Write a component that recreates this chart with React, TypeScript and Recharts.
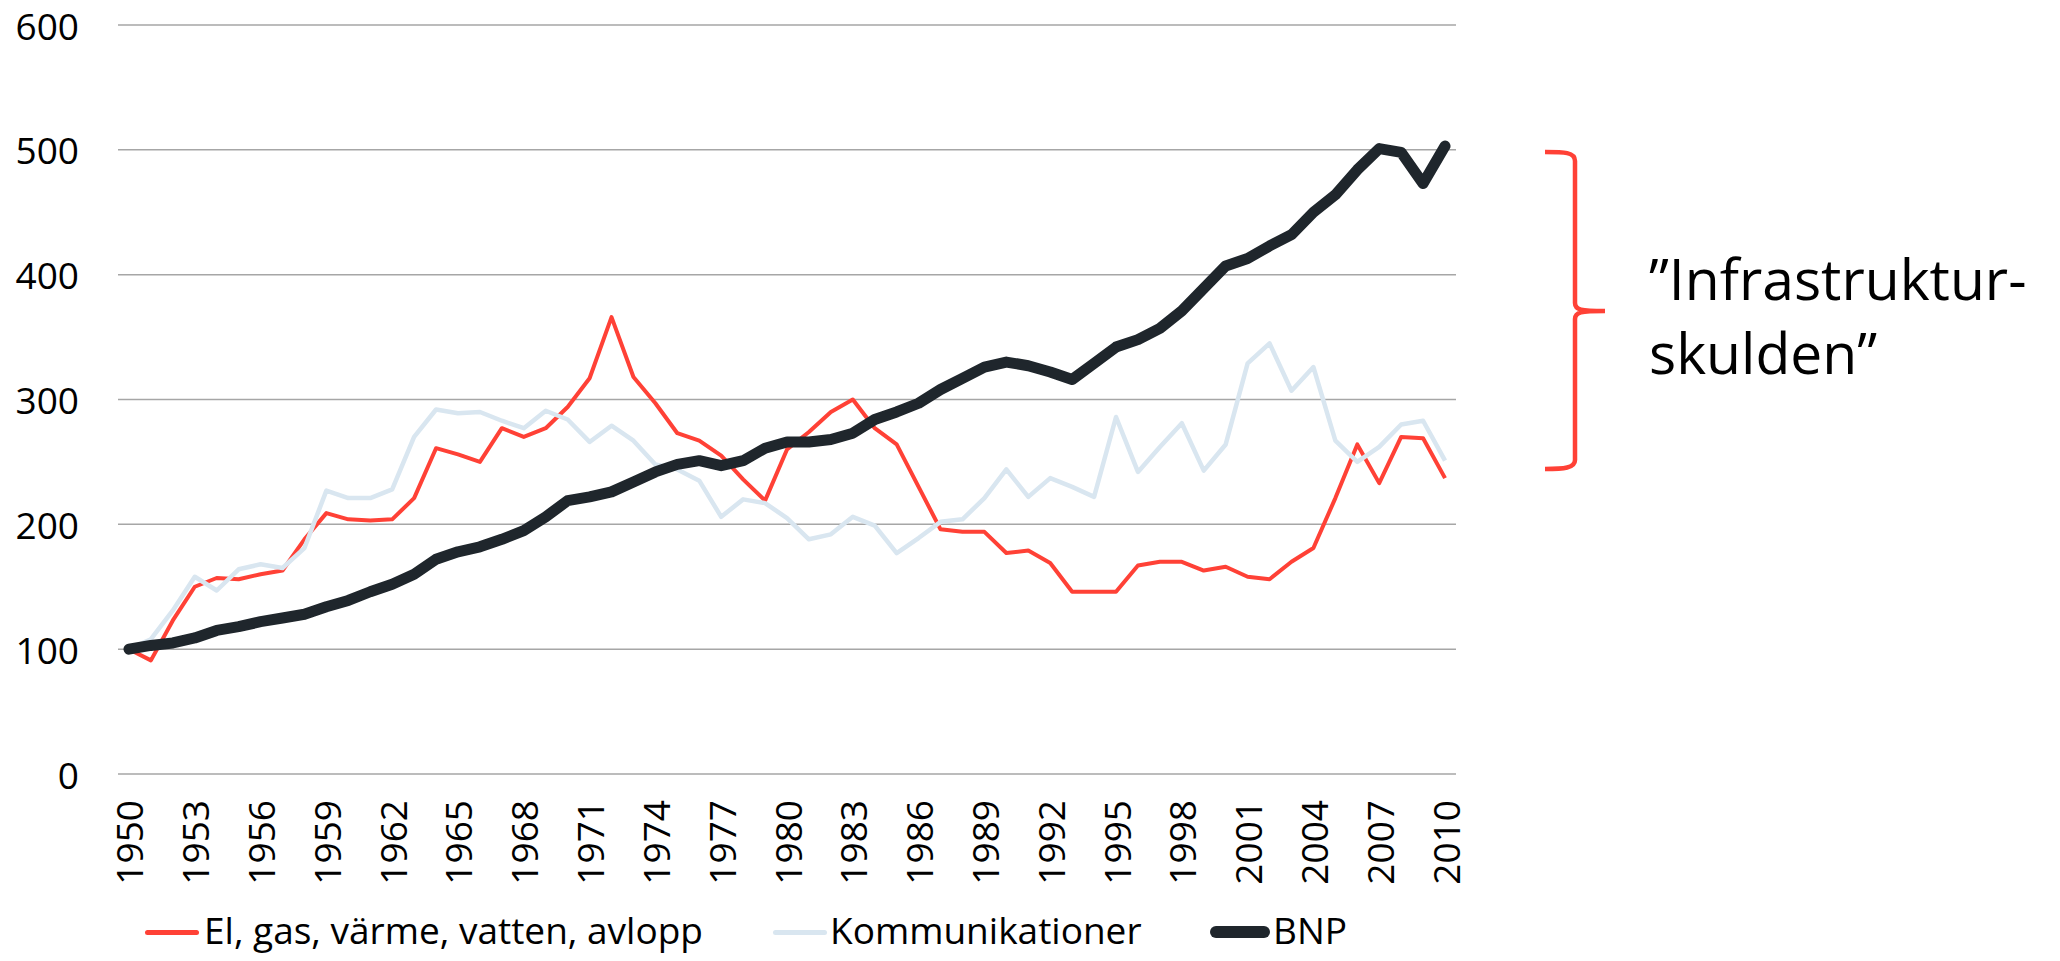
import React from "react";
import { LineChart, Line, XAxis, YAxis, CartesianGrid, Legend } from "recharts";

const years: number[] = [
  1950, 1951, 1952, 1953, 1954, 1955, 1956, 1957, 1958, 1959,
  1960, 1961, 1962, 1963, 1964, 1965, 1966, 1967, 1968, 1969,
  1970, 1971, 1972, 1973, 1974, 1975, 1976, 1977, 1978, 1979,
  1980, 1981, 1982, 1983, 1984, 1985, 1986, 1987, 1988, 1989,
  1990, 1991, 1992, 1993, 1994, 1995, 1996, 1997, 1998, 1999,
  2000, 2001, 2002, 2003, 2004, 2005, 2006, 2007, 2008, 2009, 2010,
];

const elGasVarme: number[] = [
  100, 91, 123, 150, 157, 156, 160, 163, 188, 209,
  204, 203, 204, 221, 261, 256, 250, 277, 270, 277,
  294, 317, 366, 318, 297, 273, 267, 255, 236, 219,
  260, 274, 290, 300, 277, 264, 230, 196, 194, 194,
  177, 179, 169, 146, 146, 146, 167, 170, 170, 163,
  166, 158, 156, 170, 181, 221, 264, 233, 270, 269, 237,
];

const kommunikationer: number[] = [
  100, 108, 131, 158, 147, 164, 168, 165, 181, 227,
  221, 221, 228, 270, 292, 289, 290, 283, 277, 291,
  284, 266, 279, 267, 248, 244, 235, 206, 220, 217,
  205, 188, 192, 206, 199, 177, 189, 202, 204, 221,
  244, 222, 237, 230, 222, 286, 242, 262, 281, 243,
  264, 329, 345, 307, 326, 267, 250, 262, 280, 283, 251,
];

const bnp: number[] = [
  100, 103, 105, 109, 115, 118, 122, 125, 128, 134,
  139, 146, 152, 160, 172, 178, 182, 188, 195, 206,
  219, 222, 226, 234, 242, 248, 251, 247, 251, 261,
  266, 266, 268, 273, 284, 290, 297, 308, 317, 326,
  330, 327, 322, 316, 329, 342, 348, 357, 371, 389,
  407, 413, 423, 432, 450, 464, 484, 501, 498, 473, 503,
];

const xTicks: number[] = [
  1950, 1953, 1956, 1959, 1962, 1965, 1968, 1971, 1974, 1977, 1980,
  1983, 1986, 1989, 1992, 1995, 1998, 2001, 2004, 2007, 2010,
];
const yTicks: number[] = [0, 100, 200, 300, 400, 500, 600];

const seriesNames = {
  el: "El, gas, värme, vatten, avlopp",
  komm: "Kommunikationer",
  bnp: "BNP",
};

const annotationLines: string[] = ["\u201DInfrastruktur-", "skulden\u201D"];

const data = years.map((y, i) => ({
  year: y,
  el: elGasVarme[i],
  komm: kommunikationer[i],
  bnp: bnp[i],
}));

const RED = "#ff4136";
const BLUE = "#d9e6f0";
const DARK = "#1f262c";
const FONT = "'Open Sans', sans-serif";

const W = 2044;
const H = 945;

const XTick = (props: any) => {
  const { x, y, payload } = props;
  return (
    <text
      x={x}
      y={y}
      transform={`rotate(-90, ${x}, ${y})`}
      textAnchor="end"
      dominantBaseline="central"
      fontFamily={FONT}
      fontSize={37}
      fill="#000"
    >
      {payload.value}
    </text>
  );
};

const YTick = (props: any) => {
  const { x, y, payload } = props;
  return (
    <text
      x={x}
      y={y}
      textAnchor="end"
      dominantBaseline="central"
      fontFamily={FONT}
      fontSize={37}
      fill="#000"
    >
      {payload.value}
    </text>
  );
};

const legendItems = [
  { name: seriesNames.el, color: RED, iconLeft: 137, iconW: 54, thick: 5, textLeft: 196 },
  { name: seriesNames.komm, color: BLUE, iconLeft: 765, iconW: 54, thick: 5, textLeft: 822 },
  { name: seriesNames.bnp, color: DARK, iconLeft: 1202, iconW: 60, thick: 12, textLeft: 1265 },
];

const LEG_H = 44;

const renderLegend = () => (
  <div style={{ position: "relative", width: W, height: LEG_H }}>
    {legendItems.map((it) => (
      <React.Fragment key={it.name}>
        <div
          style={{
            position: "absolute",
            left: it.iconLeft,
            top: 24 - it.thick / 2,
            width: it.iconW,
            height: it.thick,
            background: it.color,
            borderRadius: it.thick / 2,
          }}
        />
        <div
          style={{
            position: "absolute",
            left: it.textLeft,
            top: 0,
            height: LEG_H,
            lineHeight: `${LEG_H}px`,
            fontFamily: FONT,
            fontSize: 37,
            color: "#000",
            whiteSpace: "nowrap",
          }}
        >
          {it.name}
        </div>
      </React.Fragment>
    ))}
  </div>
);

export default function App() {
  return (
    <div style={{ position: "relative", width: W, height: H }}>
      <style>{`.recharts-surface{overflow:visible} body{overflow:hidden}`}</style>
      <LineChart
        width={W}
        height={H}
        data={data}
        margin={{ top: 17, right: 596, bottom: 59, left: 0 }}
      >
        <CartesianGrid vertical={false} stroke="#a6a6a6" strokeWidth={1.5} />
        <XAxis
          dataKey="year"
          type="number"
          domain={[1949.5, 2010.5]}
          ticks={xTicks}
          interval={0}
          axisLine={false}
          tickLine={false}
          tickSize={0}
          tickMargin={26}
          height={120}
          tick={<XTick />}
        />
        <YAxis
          domain={[0, 600]}
          ticks={yTicks}
          axisLine={false}
          tickLine={false}
          tickSize={0}
          tickMargin={39}
          width={110}
          tick={<YTick />}
        />
        <Legend
          layout="horizontal"
          verticalAlign="middle"
          align="center"
          wrapperStyle={{ left: 0, top: 900, width: W, height: LEG_H }}
          content={renderLegend}
        />
        <Line
          dataKey="el"
          name={seriesNames.el}
          stroke={RED}
          strokeWidth={4}
          dot={false}
          activeDot={false}
          strokeLinejoin="round"
          isAnimationActive={false}
        />
        <Line
          dataKey="komm"
          name={seriesNames.komm}
          stroke={BLUE}
          strokeWidth={4.5}
          dot={false}
          activeDot={false}
          strokeLinejoin="round"
          isAnimationActive={false}
        />
        <Line
          dataKey="bnp"
          name={seriesNames.bnp}
          stroke={DARK}
          strokeWidth={11}
          dot={false}
          activeDot={false}
          strokeLinejoin="round"
          strokeLinecap="round"
          isAnimationActive={false}
        />
      </LineChart>
      <svg
        width={W}
        height={H}
        style={{ position: "absolute", left: 0, top: 0, pointerEvents: "none" }}
      >
        <path
          d="M1537,144 C1556,144 1567,144 1567,153 L1567,295 C1567,302 1573,303 1597,303 M1597,303 C1573,303 1567,304 1567,311 L1567,452 C1567,460 1556,461 1537,461"
          fill="none"
          stroke={RED}
          strokeWidth={4.5}
        />
        <text x={1641} y={292} fontFamily={FONT} fontSize={57} fill="#000">
          {annotationLines[0]}
        </text>
        <text x={1641} y={366} fontFamily={FONT} fontSize={57} fill="#000">
          {annotationLines[1]}
        </text>
      </svg>
    </div>
  );
}
